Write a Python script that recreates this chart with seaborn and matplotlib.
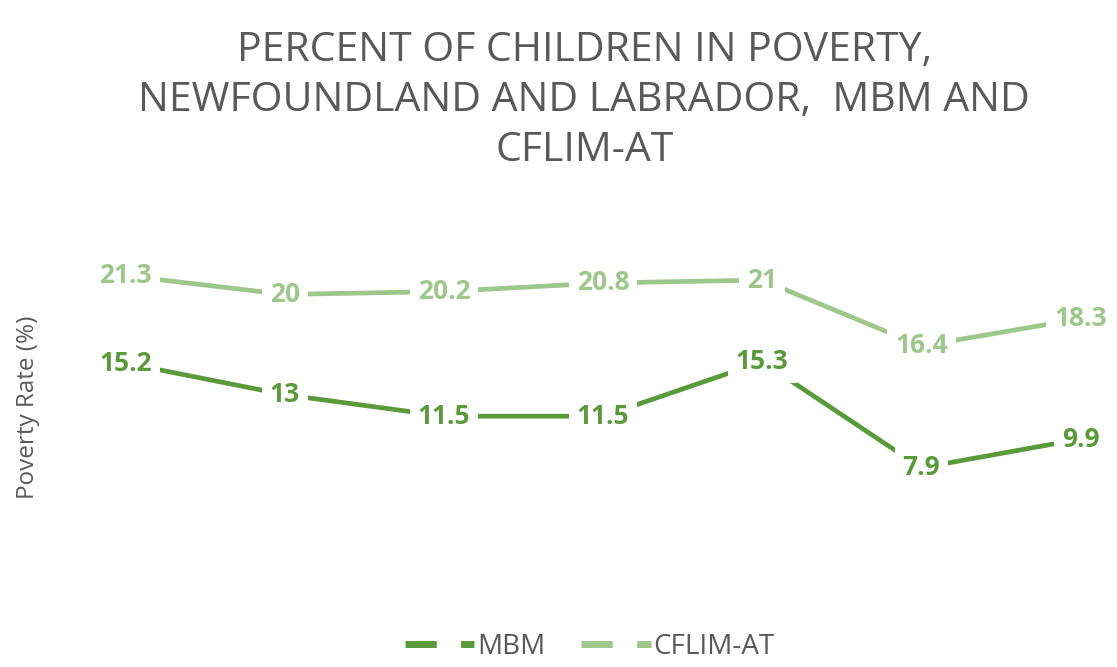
import matplotlib
matplotlib.use("Agg")
import matplotlib.pyplot as plt
import seaborn as sns
import pandas as pd
from matplotlib.lines import Line2D

points = [0, 1, 2, 3, 4, 5, 6]
mbm = [15.2, 13, 11.5, 11.5, 15.3, 7.9, 9.9]
cflim = [21.3, 20, 20.2, 20.8, 21, 16.4, 18.3]
series_names = ["MBM", "CFLIM-AT"]
colors = {"MBM": "#5A9A3B", "CFLIM-AT": "#9DC78B"}
title = "PERCENT OF CHILDREN IN POVERTY,\nNEWFOUNDLAND AND LABRADOR,  MBM AND\nCFLIM-AT"
ylabel = "Poverty Rate (%)"

df = pd.DataFrame({
    "point": points * 2,
    "value": mbm + cflim,
    "series": ["MBM"] * len(mbm) + ["CFLIM-AT"] * len(cflim),
})

sns.set_theme(style="white")
plt.rcParams["font.family"] = ["Open Sans", "DejaVu Sans"]

fig = plt.figure(figsize=(11.17, 6.67), dpi=100)
ax = fig.add_axes([0.05, 0.129, 0.95, 0.537])
sns.lineplot(data=df, x="point", y="value", hue="series", palette=colors,
             hue_order=series_names, linewidth=3.4, ax=ax, legend=False)

for name, vals in zip(series_names, [mbm, cflim]):
    for x, v in zip(points, vals):
        ax.text(x, v, f"{v:g}", ha="center", va="center", fontsize=19,
                fontweight="bold", color=colors[name],
                bbox=dict(boxstyle="square,pad=0.3", fc="white", ec="none"))

ax.set_xlim(-0.44, 6.23)
ax.set_ylim(0, 25)
ax.set_xticks([])
ax.set_yticks([])
ax.set_xlabel("")
ax.set_ylabel("")
for s in ax.spines.values():
    s.set_visible(False)

fig.text(0.025, 0.39, ylabel, rotation=90, ha="center", va="center",
         fontsize=17.5, color="#595959")
fig.text(0.523, 0.955, title, ha="center", va="top", fontsize=29.5,
         color="#595959", linespacing=1.32)

handles = [Line2D([0], [0], color=colors[n], lw=5, linestyle=(0, (4.5, 3.5))) for n in series_names]
leg = fig.legend(handles, series_names, loc="lower center", bbox_to_anchor=(0.528, -0.028),
                 ncol=2, frameon=False, fontsize=20, handlelength=2.5, handletextpad=0.1,
                 columnspacing=1.3)
for t in leg.get_texts():
    t.set_color("#595959")

fig.savefig("out.png", dpi=100)
